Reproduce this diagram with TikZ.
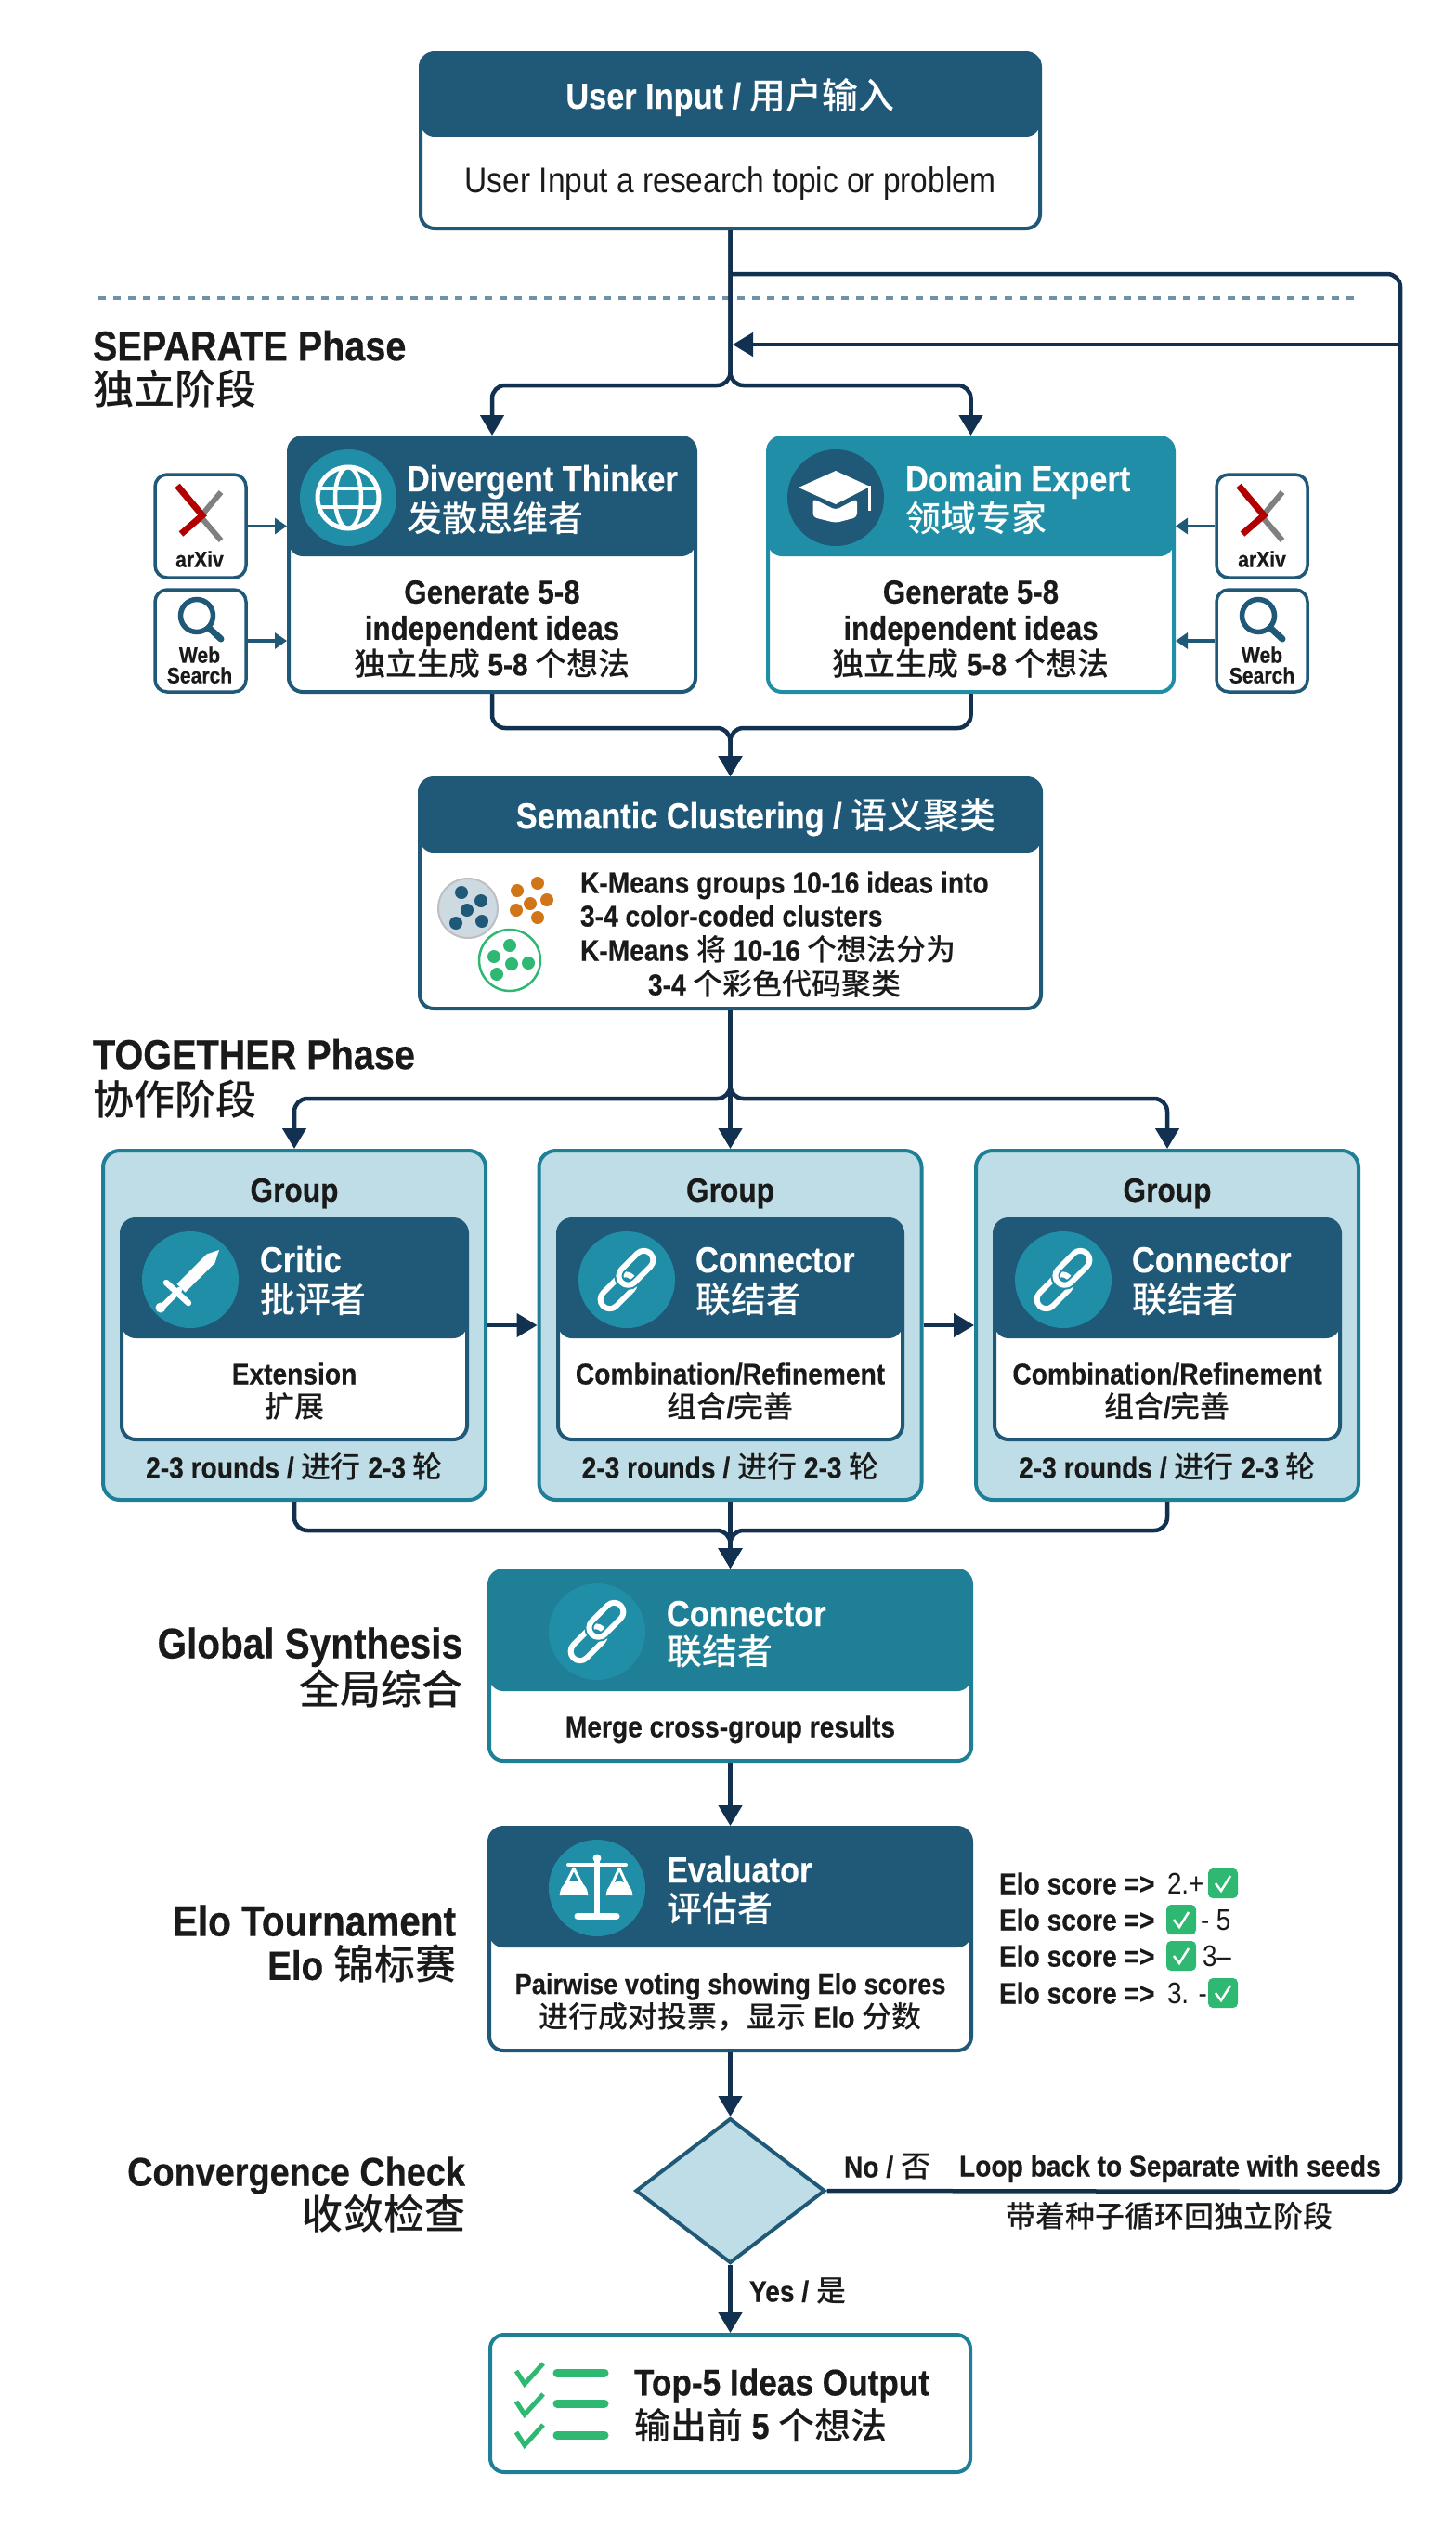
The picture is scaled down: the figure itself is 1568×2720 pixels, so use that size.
\documentclass[tikz,border=0pt]{standalone}
\usepackage{fontspec}
\setmainfont[FakeStretch=0.87,BoldFont={Liberation Sans Bold},BoldFeatures={FakeStretch=0.88,FakeBold=0.35}]{Liberation Sans}
\newfontfamily\cjk[BoldFont={Noto Sans CJK SC Medium}]{Noto Sans CJK SC}
\newcommand\zh[1]{{\cjk #1}}
\usetikzlibrary{arrows.meta,shapes.geometric,calc}
\definecolor{navy}{HTML}{205878}
\definecolor{teal}{HTML}{1F8EA6}
\definecolor{tealdk}{HTML}{1E7F96}
\definecolor{wirec}{HTML}{12304F}
\definecolor{pale}{HTML}{BEDDE6}
\definecolor{ink}{HTML}{1A1A1A}
\definecolor{okgreen}{HTML}{2EB872}
\tikzset{
  lbl/.style={inner sep=0pt,outer sep=0pt,text=ink},
  wire/.style={draw=wirec,line width=4.5pt},
  rc/.style={rounded corners=14pt},
  arr/.style={wire,-{Triangle[length=22pt,width=25pt]}},
  sidearr/.style={draw=navy,line width=3.5pt,-{Triangle[length=13pt,width=17pt]}},
  toolbox/.style={draw=navy,line width=3.5pt,fill=white,rounded corners=13pt,inner sep=0pt,minimum width=98pt,minimum height=111pt},
  iconline/.style={draw=white,line cap=round,line join=round},
  grp/.style={draw=tealdk,fill=pale,line width=4pt,rounded corners=18pt,inner sep=0pt},
  dot/.style={circle,inner sep=0pt,minimum size=14pt}
}
% \tx[opts]{name}{x,y}{size}{text}
\newcommand\tx[4][]{\node[lbl,font=\fontsize{#4}{#4}\selectfont,text height=#4pt*0.72,text depth=0pt,#1] (#2) at (#3)}
% \card{name}{x1}{y1}{x2}{y2}{header height}{head}{border}
\newcommand\card[8]{%
  \node[draw=#8,fill=white,line width=4pt,rounded corners=15pt,inner sep=0pt,
    minimum width=#4pt-#2pt,minimum height=#5pt-#3pt,
    path picture={\fill[#7] (path picture bounding box.north west) rectangle ([yshift=-#6pt]path picture bounding box.north east);}]
    (#1) at ({(#2+#4)/2},{(#3+#5)/2}) {};}
\newcommand\iconc[3]{\node[circle,fill=#3,inner sep=0pt,minimum size=104pt] (#1) at (#2) {};}
\newcommand\chain[2]{% centre, background colour
  \begin{scope}[shift={(#1)},rotate=45]
    \draw[iconline,line width=6pt,rounded corners=10pt] (-38,-8) rectangle (6,12);
    \draw[draw=#2,line width=10pt,rounded corners=10pt] (-6,-12) rectangle (38,8);
    \draw[iconline,line width=6pt,rounded corners=10pt] (-6,-12) rectangle (38,8);
  \end{scope}}
\newcommand\arxiv[2]{%
  \begin{scope}[shift={(#1,0)}]
    \draw[draw=gray,line width=6pt] (22,530) -- (-3,560);
    \draw[draw=gray,line width=6pt] (-1,555) -- (22,582);
    \draw[draw=red!70!black,line width=7pt] (-25,523) -- (2,555) -- (-21,575);
    \draw[draw=navy,line width=5.5pt] (-4,663) circle (17.5);
    \draw[draw=navy,line width=7pt,line cap=round] (10,677) -- (22,688);
  \end{scope}}
\newcommand\chk[2]{%
  \node[fill=okgreen,rounded corners=5pt,inner sep=0pt,minimum width=32pt,minimum height=32pt] (#1) at (#2) {};
  \draw[draw=white,line width=2.5pt] ($(#1)+(-8,0)$) -- ($(#1)+(-2,8)$) -- ($(#1)+(8,-8)$);}
\newcommand\outchk[2]{%
  \begin{scope}[shift={(556,#1)}]
    \draw[draw=okgreen,line width=5pt] (0,8) -- (9,22) -- (29,0);
  \end{scope}
  \draw[draw=okgreen,line width=9pt,line cap=round] (600,#2) -- (651,#2);}
\begin{document}
\begin{tikzpicture}[x=1pt,y=-1pt]
\useasboundingbox (0,0) rectangle (1568,2720);
\fill[white] (0,0) rectangle (1568,2720);

% ---- coordinates for connectors
\coordinate (cT) at (786.5,295);
\coordinate (cTR) at (1508,295);
\coordinate (cNR) at (1508,2360);
\coordinate (cL) at (1508,371);
\coordinate (cJ) at (789,371);
\coordinate (cS) at (786.5,415);
\coordinate (cM) at (786.5,784);
\coordinate (cG) at (786.5,1183);
\coordinate (cB) at (786.5,1648);
\coordinate (dotA) at (106,321);
\coordinate (dotB) at (1460,321);

\draw[draw=navy!65!white,line width=4pt,dash pattern=on 8pt off 8pt] (dotA) -- (dotB);

% ---- cards
\card{input}{453}{57}{1120}{246}{90}{navy}{navy}
\card{div}{311}{471}{749}{745}{128}{navy}{navy}
\card{dom}{827}{471}{1264}{745}{128}{teal}{teal}
\card{sem}{452}{838}{1121}{1086}{80}{navy}{navy}
\node[grp,minimum width=412pt,minimum height=376pt] (g1) at (317,1427) {};
\node[grp,minimum width=412pt,minimum height=376pt] (g2) at (786.5,1427) {};
\node[grp,minimum width=412pt,minimum height=376pt] (g3) at (1257,1427) {};
\card{c1}{131}{1313}{503}{1550}{128}{navy}{navy}
\card{c2}{601}{1313}{972}{1550}{128}{navy}{navy}
\card{c3}{1071}{1313}{1443}{1550}{128}{navy}{navy}
\card{conn}{527}{1691}{1046}{1896}{130}{tealdk}{tealdk}
\card{eval}{527}{1968}{1046}{2208}{129}{navy}{navy}
\node[draw=tealdk,fill=white,line width=4pt,rounded corners=15pt,inner sep=0pt,minimum width=517pt,minimum height=148pt] (out) at (786.5,2588) {};
\node[diamond,draw=navy,fill=pale,line width=4pt,aspect=1.308,inner sep=0pt,minimum width=204pt,minimum height=156pt] (dec) at (786.5,2359) {};

\node[toolbox] (ax1) at (216,566.5) {};
\node[toolbox,minimum height=110pt] (ws1) at (216,690) {};
\node[toolbox] (ax2) at (1359,566.5) {};
\node[toolbox,minimum height=110pt] (ws2) at (1359,690) {};

% ---- connectors
\draw[wire,rc] (cT) -- (cTR) -- (cNR) -- (dec.east);
\draw[arr] (cL) -- (cJ);
\draw[arr,rc] (input.south) -- (cS) -- (cS-|div.north) -- (div.north);
\draw[arr,rc] (input.south) -- (cS) -- (cS-|dom.north) -- (dom.north);
\draw[arr,rc] (div.south) |- (cM) -- (sem.north);
\draw[arr,rc] (dom.south) |- (cM) -- (sem.north);
\draw[arr,rc] (sem.south) -- (cG) -- (cG-|g1.north) -- (g1.north);
\draw[arr] (sem.south) -- (g2.north);
\draw[arr,rc] (sem.south) -- (cG) -- (cG-|g3.north) -- (g3.north);
\draw[arr] (g1.east) -- (g2.west);
\draw[arr] (g2.east) -- (g3.west);
\draw[arr,rc] (g1.south) |- (cB) -- (conn.north);
\draw[arr,rc] (g3.south) |- (cB) -- (conn.north);
\draw[arr] (g2.south) -- (conn.north);
\draw[arr] (conn.south) -- (eval.north);
\draw[arr] (eval.south) -- (dec.north);
\draw[arr] (dec.south) -- (out.north);
\draw[sidearr] (ax1.east) -- (ax1.east-|div.west);
\draw[sidearr] (ws1.east) -- (ws1.east-|div.west);
\draw[sidearr] (ax2.west) -- (ax2.west-|dom.east);
\draw[sidearr] (ws2.west) -- (ws2.west-|dom.east);

% ---- input
\tx[text=white,font=\fontsize{39}{39}\selectfont\bfseries]{tInA}{786.5,103}{39}{User Input / \zh{用户输入}};
\tx{tInB}{786.5,194}{38.5}{User Input a research topic or problem};

% ---- phase labels
\tx[anchor=west,font=\fontsize{45}{45}\selectfont\bfseries]{sepA}{100,372}{45}{SEPARATE Phase};
\tx[anchor=west,font=\fontsize{44}{44}\selectfont\bfseries]{sepB}{100,420}{44}{\zh{独立阶段}};
\tx[anchor=west,font=\fontsize{45}{45}\selectfont\bfseries]{togA}{100,1135}{45}{TOGETHER Phase};
\tx[anchor=west,font=\fontsize{44}{44}\selectfont\bfseries]{togB}{100,1185}{44}{\zh{协作阶段}};
\tx[anchor=east,font=\fontsize{46}{46}\selectfont\bfseries]{glA}{498,1769}{46}{Global Synthesis};
\tx[anchor=east,font=\fontsize{44}{44}\selectfont\bfseries]{glB}{498,1820}{44}{\zh{全局综合}};
\tx[anchor=east,font=\fontsize{46}{46}\selectfont\bfseries]{elA}{491,2068}{46}{Elo Tournament};
\tx[anchor=east,font=\fontsize{44}{44}\selectfont\bfseries]{elB}{491,2116}{44}{Elo \zh{锦标赛}};
\tx[anchor=east,font=\fontsize{43}{43}\selectfont\bfseries]{coA}{501,2338}{43}{Convergence Check};
\tx[anchor=east,font=\fontsize{44}{44}\selectfont\bfseries]{coB}{501,2385}{44}{\zh{收敛检查}};

% ---- divergent thinker
\iconc{icD}{375,536}{teal}
\draw[draw=white,line width=5pt] (icD) circle (33);
\draw[draw=white,line width=4.5pt] (icD) ellipse (14 and 33);
\draw[draw=white,line width=4.5pt] ($(icD)+(-30,-10)$) -- ($(icD)+(30,-10)$);
\draw[draw=white,line width=4.5pt] ($(icD)+(-30,10)$) -- ($(icD)+(30,10)$);
\tx[anchor=west,text=white,font=\fontsize{39}{39}\selectfont\bfseries]{dA}{438,515}{39}{Divergent Thinker};
\tx[anchor=west,text=white,font=\fontsize{38}{38}\selectfont\bfseries]{dB}{438,559}{38}{\zh{发散思维者}};
\tx[font=\fontsize{35.5}{35.5}\selectfont\bfseries]{dC}{530,637}{35.5}{Generate 5-8};
\tx[font=\fontsize{35.5}{35.5}\selectfont\bfseries]{dD}{530,676}{35.5}{independent ideas};
\tx[font=\fontsize{34}{34}\selectfont\bfseries]{dE}{530,715}{34}{\zh{独立生成} 5-8 \zh{个想法}};

% ---- domain expert
\iconc{icE}{900,536}{navy}
\fill[white] (860,525) -- (900,507) -- (937,524) -- (900,543) -- cycle;
\fill[white,rounded corners=4pt] (875.5,537) -- (900,549) -- (923,537) -- (923,557) -- (900,563) -- (875.5,557) -- cycle;
\draw[draw=white,line width=3pt] (936,523) -- (936,550);
\tx[anchor=west,text=white,font=\fontsize{39}{39}\selectfont\bfseries]{eA}{975,515}{39}{Domain Expert};
\tx[anchor=west,text=white,font=\fontsize{38}{38}\selectfont\bfseries]{eB}{975,559}{38}{\zh{领域专家}};
\tx[font=\fontsize{35.5}{35.5}\selectfont\bfseries]{eC}{1045.5,637}{35.5}{Generate 5-8};
\tx[font=\fontsize{35.5}{35.5}\selectfont\bfseries]{eD}{1045.5,676}{35.5}{independent ideas};
\tx[font=\fontsize{34}{34}\selectfont\bfseries]{eE}{1045.5,715}{34}{\zh{独立生成} 5-8 \zh{个想法}};

% ---- tools
\arxiv{216}{}
\arxiv{1359}{}
\tx[font=\fontsize{24}{24}\selectfont\bfseries]{xA}{215,602}{24}{arXiv};
\tx[font=\fontsize{24}{24}\selectfont\bfseries]{wA}{215,705}{24}{Web};
\tx[font=\fontsize{24}{24}\selectfont\bfseries]{wB}{215,727}{24}{Search};
\tx[font=\fontsize{24}{24}\selectfont\bfseries]{xB}{1359,602}{24}{arXiv};
\tx[font=\fontsize{24}{24}\selectfont\bfseries]{wC}{1359,705}{24}{Web};
\tx[font=\fontsize{24}{24}\selectfont\bfseries]{wD}{1359,727}{24}{Search};

% ---- clustering
\tx[text=white,font=\fontsize{39}{39}\selectfont\bfseries]{sA}{814,878}{39}{Semantic Clustering / \zh{语义聚类}};
\tx[anchor=west,font=\fontsize{32}{32}\selectfont\bfseries]{sB}{625,950}{32}{K-Means groups 10-16 ideas into};
\tx[anchor=west,font=\fontsize{32}{32}\selectfont\bfseries]{sC}{625,986}{32}{3-4 color-coded clusters};
\tx[anchor=west,font=\fontsize{32}{32}\selectfont\bfseries]{sD}{625,1023}{32}{K-Means \zh{将} 10-16 \zh{个想法分为}};
\tx[anchor=west,font=\fontsize{32}{32}\selectfont\bfseries]{sE}{698,1060}{32}{3-4 \zh{个彩色代码聚类}};
\node[circle,draw=gray!50,fill=navy!22,line width=2pt,inner sep=0pt,minimum size=64pt] (cl1) at (504,978) {};
\node[circle,draw=okgreen,fill=white,line width=2.5pt,inner sep=0pt,minimum size=66pt] (cl2) at (549,1034) {};
\foreach \i/\p in {1/{497,961},2/{518,970},3/{503,980},4/{519,992},5/{491,994}}
  \node[dot,fill=navy] (pa\i) at (\p) {};
\foreach \i/\p in {1/{579,951},2/{557,959},3/{589,969},4/{571,973},5/{556,980},6/{579,988}}
  \node[dot,fill=orange!80!black!90] (pb\i) at (\p) {};
\foreach \i/\p in {1/{549,1018},2/{532,1030},3/{569,1037},4/{551,1038},5/{535,1049}}
  \node[dot,fill=okgreen] (pc\i) at (\p) {};

% ---- groups
\tx[font=\fontsize{36}{36}\selectfont\bfseries]{g1A}{317,1281}{36}{Group};
\tx[font=\fontsize{36}{36}\selectfont\bfseries]{g2A}{786.5,1281}{36}{Group};
\tx[font=\fontsize{36}{36}\selectfont\bfseries]{g3A}{1257,1281}{36}{Group};
\iconc{ic1}{205,1378}{teal}
\iconc{ic2}{675,1378}{teal}
\iconc{ic3}{1145,1378}{teal}
% sword
\fill[white] (236,1346) -- (231.5,1360) -- (199.5,1391.5) -- (190.5,1382.5) -- (222.5,1350.5) -- cycle;
\draw[iconline,line width=6.5pt] (179,1381) -- (203,1403);
\draw[iconline,line width=6.5pt] (193,1389) -- (176,1406);
\fill[white] (173,1408) circle (5.5);
\chain{675,1378}{teal}
\chain{1145,1378}{teal}
\tx[anchor=west,text=white,font=\fontsize{39}{39}\selectfont\bfseries]{c1A}{280,1356}{39}{Critic};
\tx[anchor=west,text=white,font=\fontsize{38}{38}\selectfont\bfseries]{c1B}{280,1400}{38}{\zh{批评者}};
\tx[anchor=west,text=white,font=\fontsize{39}{39}\selectfont\bfseries]{c2A}{749,1356}{39}{Connector};
\tx[anchor=west,text=white,font=\fontsize{38}{38}\selectfont\bfseries]{c2B}{749,1400}{38}{\zh{联结者}};
\tx[anchor=west,text=white,font=\fontsize{39}{39}\selectfont\bfseries]{c3A}{1219,1356}{39}{Connector};
\tx[anchor=west,text=white,font=\fontsize{38}{38}\selectfont\bfseries]{c3B}{1219,1400}{38}{\zh{联结者}};
\tx[font=\fontsize{32}{32}\selectfont\bfseries]{c1C}{317,1479}{32}{Extension};
\tx[font=\fontsize{32}{32}\selectfont\bfseries]{c1D}{317,1515}{32}{\zh{扩展}};
\tx[font=\fontsize{32}{32}\selectfont\bfseries]{c2C}{786.5,1479}{32}{Combination/Refinement};
\tx[font=\fontsize{32}{32}\selectfont\bfseries]{c2D}{786.5,1515}{32}{\zh{组合}/\zh{完善}};
\tx[font=\fontsize{32}{32}\selectfont\bfseries]{c3C}{1257,1479}{32}{Combination/Refinement};
\tx[font=\fontsize{32}{32}\selectfont\bfseries]{c3D}{1257,1515}{32}{\zh{组合}/\zh{完善}};
\tx[font=\fontsize{32}{32}\selectfont\bfseries]{g1B}{317,1580}{32}{2-3 rounds / \zh{进行} 2-3 \zh{轮}};
\tx[font=\fontsize{32}{32}\selectfont\bfseries]{g2B}{786.5,1580}{32}{2-3 rounds / \zh{进行} 2-3 \zh{轮}};
\tx[font=\fontsize{32}{32}\selectfont\bfseries]{g3B}{1257,1580}{32}{2-3 rounds / \zh{进行} 2-3 \zh{轮}};

% ---- connector
\iconc{ic4}{643,1757}{teal}
\chain{643,1757}{teal}
\tx[anchor=west,text=white,font=\fontsize{39}{39}\selectfont\bfseries]{nA}{718,1737}{39}{Connector};
\tx[anchor=west,text=white,font=\fontsize{38}{38}\selectfont\bfseries]{nB}{718,1779}{38}{\zh{联结者}};
\tx[font=\fontsize{32}{32}\selectfont\bfseries]{nC}{786.5,1859}{32}{Merge cross-group results};

% ---- evaluator
\iconc{ic5}{643,2033}{teal}
\draw[iconline,line width=6pt] (643,2002) -- (643,2063);
\draw[iconline,line width=7pt] (622,2063) -- (664,2063);
\draw[iconline,line width=4pt] (612,2008) -- (674,2008);
\fill[white] (643,2001) circle (4.5);
\draw[iconline,line width=3pt] (604,2040) -- (618,2012) -- (632,2040);
\draw[iconline,line width=3pt] (654,2040) -- (667,2012) -- (680,2040);
\fill[white] (603,2040) -- (633,2040) arc[start angle=0,end angle=-180,radius=15] -- cycle;
\fill[white] (653,2040) -- (681,2040) arc[start angle=0,end angle=-180,radius=14] -- cycle;
\tx[anchor=west,text=white,font=\fontsize{39}{39}\selectfont\bfseries]{vA}{718,2013}{39}{Evaluator};
\tx[anchor=west,text=white,font=\fontsize{38}{38}\selectfont\bfseries]{vB}{718,2056}{38}{\zh{评估者}};
\tx[font=\fontsize{31}{31}\selectfont\bfseries]{vC}{786.5,2136}{31}{Pairwise voting showing Elo scores};
\tx[font=\fontsize{32}{32}\selectfont\bfseries]{vD}{786.5,2172}{32}{\zh{进行成对投票，显示} Elo \zh{分数}};

% ---- elo list
\tx[anchor=west,font=\fontsize{32}{32}\selectfont\bfseries]{e1}{1076,2028}{32}{Elo score =>};
\tx[anchor=west,font=\fontsize{32}{32}\selectfont\bfseries]{e2}{1076,2067}{32}{Elo score =>};
\tx[anchor=west,font=\fontsize{32}{32}\selectfont\bfseries]{e3}{1076,2106}{32}{Elo score =>};
\tx[anchor=west,font=\fontsize{32}{32}\selectfont\bfseries]{e4}{1076,2146}{32}{Elo score =>};
\tx[anchor=west]{s1}{1257,2028}{32}{2.+};
\tx[anchor=west]{s2}{1293,2067}{32}{- 5};
\tx[anchor=west]{s3}{1295,2106}{32}{3\textendash};
\tx[anchor=west]{s4}{1257,2146}{32}{3. -};
\chk{k1}{1317,2028}
\chk{k2}{1272,2067}
\chk{k3}{1272,2106}
\chk{k4}{1317,2146}

% ---- decision labels
\tx[anchor=west,font=\fontsize{32}{32}\selectfont\bfseries]{no}{909,2333}{32}{No / \zh{否}};
\tx[anchor=west,font=\fontsize{32}{32}\selectfont\bfseries]{loop}{1033,2332}{32}{Loop back to Separate with seeds};
\tx[font=\fontsize{32}{32}\selectfont\bfseries]{loopB}{1259,2387}{32}{\zh{带着种子循环回独立阶段}};
\tx[anchor=west,font=\fontsize{32}{32}\selectfont\bfseries]{yes}{807,2467}{32}{Yes / \zh{是}};

% ---- output
\outchk{2545}{2555}
\outchk{2578}{2588}
\outchk{2611}{2622}
\tx[anchor=west,font=\fontsize{40}{40}\selectfont\bfseries]{oA}{683,2565}{40}{Top-5 Ideas Output};
\tx[anchor=west,font=\fontsize{39}{39}\selectfont\bfseries]{oB}{683,2612}{39}{\zh{输出前} 5 \zh{个想法}};
\end{tikzpicture}
\end{document}
